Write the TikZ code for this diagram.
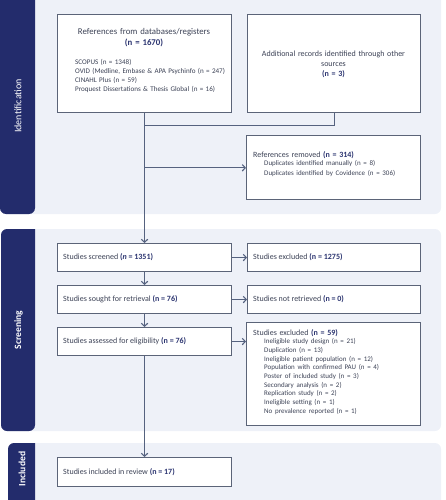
\documentclass[tikz,border=0pt]{standalone}
\usepackage{fontspec}
\setmainfont{Carlito}
\usetikzlibrary{arrows.meta,calc}
\definecolor{navy}{HTML}{232C6C}
\definecolor{panel}{HTML}{EEF1F8}
\definecolor{boxline}{HTML}{5B6478}
\definecolor{txt}{HTML}{3C4256}
\definecolor{numc}{HTML}{2B3470}
\definecolor{arr}{HTML}{55627F}
\newcommand{\nb}[1]{{\color{numc}\bfseries #1}}
\newcommand{\subl}[1]{{\fontsize{7}{8.71}\selectfont\hspace*{11pt}#1}}
\tikzset{
  x=1pt,y=-1pt,
  box/.style={draw=boxline,line width=1.1pt,fill=white,inner sep=0pt,anchor=north west},
  main/.style={font=\fontsize{8}{9}\selectfont,text=txt,align=left,inner sep=0pt},
  flow/.style={draw=arr,line width=1.1pt},
  flowa/.style={flow,-{Straight Barb[length=3pt,width=6.5pt,line width=1.1pt]}},
  bandtxt/.style={text=white,rotate=90,inner sep=0pt},
}
\begin{document}
\begin{tikzpicture}
\useasboundingbox (0,0) rectangle (445,500);
% panels
\fill[panel,rounded corners=6pt] (0,-10) rectangle (441,214);
\fill[panel,rounded corners=6pt] (1,229) rectangle (441,431);
\fill[panel,rounded corners=6pt] (8,443) rectangle (441,510);
% bands
\fill[navy,rounded corners=6pt] (35,-10) -- (0,-10) -- (0,214) -- (35,214) [sharp corners]-- cycle;
\fill[navy,rounded corners=6pt] (35,229) -- (1,229) -- (1,431) -- (35,431) [sharp corners]-- cycle;
\fill[navy,rounded corners=6pt] (35,443) -- (8,443) -- (8,510) -- (35,510) [sharp corners]-- cycle;
\node[bandtxt,font=\fontsize{10}{12}\selectfont] (lid) at (18,106) {Identification};
\node[bandtxt,font=\fontsize{9.6}{12}\selectfont\bfseries] (lsc) at (18.5,330) {Screening};
\node[bandtxt,font=\fontsize{9.6}{12}\selectfont\bfseries] (lin) at (22,469) {Included};
% boxes
\node[box,minimum width=174pt,minimum height=98pt] (A) at (57,14) {};
\node[box,minimum width=173pt,minimum height=98pt] (B) at (247,14) {};
\node[box,minimum width=174pt,minimum height=64pt] (C) at (246,135) {};
\node[box,minimum width=174pt,minimum height=28pt] (D) at (57,243) {};
\node[box,minimum width=173pt,minimum height=28pt] (E) at (247,243) {};
\node[box,minimum width=174pt,minimum height=28pt] (F) at (57,285) {};
\node[box,minimum width=173pt,minimum height=28pt] (G) at (247,285) {};
\node[box,minimum width=174pt,minimum height=28pt] (H) at (57,327) {};
\node[box,minimum width=174pt,minimum height=103pt] (I) at (246,322) {};
\node[box,minimum width=174pt,minimum height=29pt] (J) at (57,457) {};
% texts
\node[main,anchor=base,text width=170pt,align=center,font=\fontsize{8.8}{11}\selectfont] (Atitle) at (144,34.8) {References from databases/registers\\\nb{(n = 1670)}};
\node[main,anchor=base west,text width=160pt,font=\fontsize{7.1}{8.9}\selectfont] (Alist) at (75,64.5) {SCOPUS (n = 1348)\\OVID (Medline, Embase \& APA Psychinfo (n = 247)\\CINAHL Plus (n = 59)\\Proquest Dissertations \& Thesis Global (n = 16)};
\node[main,anchor=base,text width=170pt,align=center,font=\fontsize{8}{10}\selectfont] (Btext) at (333.5,56.5) {Additional records identified through other\\sources\\\nb{(n = 3)}};
\node[main,anchor=base west,text width=165pt] (Ctext) at (253,157) {References removed \nb{(n = 314)}\\
  \subl{Duplicates identified manually (n = 8)}\\
  \subl{Duplicates identified by Covidence (n = 306)}};
\node[main,anchor=base west] (Dtext) at (63,259.7) {Studies screened \nb{(\textit{n} = 1351)}};
\node[main,anchor=base west] (Etext) at (253,259.7) {Studies excluded \nb{(n = 1275)}};
\node[main,anchor=base west] (Ftext) at (63,301.7) {Studies sought for retrieval \nb{(n = 76)}};
\node[main,anchor=base west] (Gtext) at (253,301.7) {Studies not retrieved \nb{(n = 0)}};
\node[main,anchor=base west] (Htext) at (63,343.7) {Studies assessed for eligibility \nb{(n = 76)}};
\node[main,anchor=base west,text width=165pt,font=\fontsize{8}{8.71}\selectfont] (Itext) at (253,335) {Studies excluded \nb{(n = 59)}\\
  \subl{Ineligible study design (n = 21)}\\
  \subl{Duplication (n = 13)}\\
  \subl{Ineligible patient population (n = 12)}\\
  \subl{Population with confirmed PAU (n = 4)}\\
  \subl{Poster of included study (n = 3)}\\
  \subl{Secondary analysis (n = 2)}\\
  \subl{Replication study (n = 2)}\\
  \subl{Ineligible setting (n = 1)}\\
  \subl{No prevalence reported (n = 1)}};
\node[main,anchor=base west] (Jtext) at (63,474.2) {Studies included in review \nb{(n = 17)}};
% connectors
\coordinate (merge) at ($(A.south)+(0,12)$);
\coordinate (rem) at ($(A.south)+(0,54.7)$);
\draw[flow] (B.south) |- (merge);
\draw[flowa] (A.south) -- (D.north);
\draw[flowa] (rem) -- (rem -| C.west);
\draw[flowa] (D.east) -- (E.west);
\draw[flowa] (F.east) -- (G.west);
\draw[flowa] (D.south) -- (F.north);
\draw[flowa] (F.south) -- (H.north);
\draw[flowa] (H.east) -- (H.east -| I.west);
\draw[flowa] (H.south) -- (J.north);
\end{tikzpicture}
\end{document}
